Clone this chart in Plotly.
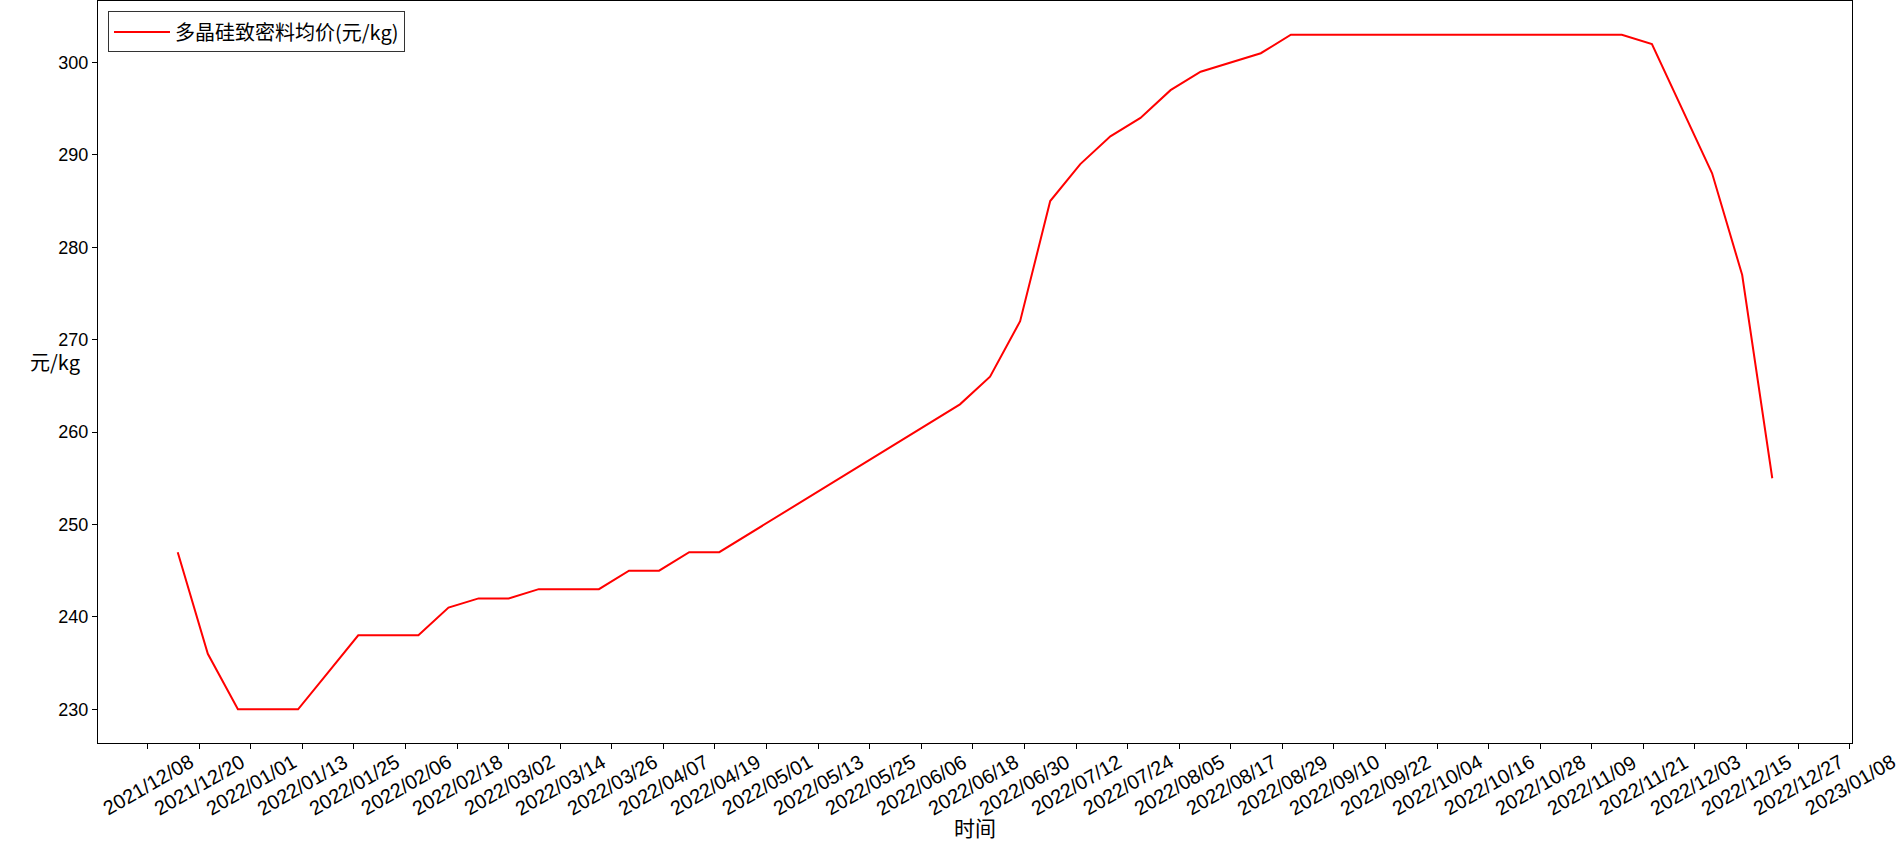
import plotly.graph_objects as go
from datetime import datetime

dates = [
    "2021-12-15", "2021-12-22", "2021-12-29", "2022-01-05", "2022-01-12",
    "2022-01-19", "2022-01-26", "2022-02-02", "2022-02-09", "2022-02-16",
    "2022-02-23", "2022-03-02", "2022-03-09", "2022-03-16", "2022-03-23",
    "2022-03-30", "2022-04-06", "2022-04-13", "2022-04-20",
    "2022-06-15", "2022-06-22", "2022-06-29", "2022-07-06", "2022-07-13",
    "2022-07-20", "2022-07-27", "2022-08-03", "2022-08-10", "2022-08-17",
    "2022-08-24", "2022-08-31", "2022-09-07", "2022-09-14", "2022-09-21",
    "2022-09-28", "2022-10-05", "2022-10-12", "2022-10-19", "2022-10-26",
    "2022-11-02", "2022-11-09", "2022-11-16", "2022-11-23",
    "2022-12-07", "2022-12-14", "2022-12-21",
]
prices = [
    247, 236, 230, 230, 230,
    234, 238, 238, 238, 241,
    242, 242, 243, 243, 243,
    245, 245, 247, 247,
    263, 266, 272, 285, 289,
    292, 294, 297, 299, 300,
    301, 303, 303, 303, 303,
    303, 303, 303, 303, 303,
    303, 303, 303, 302,
    288, 277, 255,
]
series_name = "多晶硅致密料均价(元/kg)"
x_title = "时间"
y_title = "元/kg"

tick_dates = [
    "2021-12-08", "2021-12-20", "2022-01-01", "2022-01-13", "2022-01-25",
    "2022-02-06", "2022-02-18", "2022-03-02", "2022-03-14", "2022-03-26",
    "2022-04-07", "2022-04-19", "2022-05-01", "2022-05-13", "2022-05-25",
    "2022-06-06", "2022-06-18", "2022-06-30", "2022-07-12", "2022-07-24",
    "2022-08-05", "2022-08-17", "2022-08-29", "2022-09-10", "2022-09-22",
    "2022-10-04", "2022-10-16", "2022-10-28", "2022-11-09", "2022-11-21",
    "2022-12-03", "2022-12-15", "2022-12-27", "2023-01-08",
]
tick_labels = [d.replace("-", "/") for d in tick_dates]
y_ticks = [230, 240, 250, 260, 270, 280, 290, 300]

# ---- axis ranges with 5% padding (like matplotlib autoscale) ----
d0 = datetime.fromisoformat(dates[0])
d1 = datetime.fromisoformat(dates[-1])
pad = (d1 - d0) * 0.05
x_range = [(d0 - pad).isoformat(), (d1 + pad).isoformat()]
ymin, ymax = min(prices), max(prices)
ypad = (ymax - ymin) * 0.05
y_range = [ymin - ypad, ymax + ypad]

CJK = "Noto Sans CJK SC"
LAT = "Liberation Sans"

fig = go.Figure()
fig.add_trace(go.Scatter(
    x=dates, y=prices, mode="lines", name=series_name,
    line=dict(color="#ff0000", width=2),
))

annotations = []
for d, lab in zip(tick_dates, tick_labels):
    annotations.append(dict(
        x=d, y=-0.056, xref="x", yref="paper", text=lab, showarrow=False,
        textangle=-30, xanchor="center", yanchor="middle",
        font=dict(family=LAT, size=20, color="black"),
    ))
annotations.append(dict(
    x=0.5, y=-0.1135, xref="paper", yref="paper", text=x_title, showarrow=False,
    xanchor="center", yanchor="middle",
    font=dict(family=CJK, size=21, color="black"),
))
annotations.append(dict(
    x=-0.0091, y=0.514, xref="paper", yref="paper", text=y_title, showarrow=False,
    xanchor="right", yanchor="middle",
    font=dict(family=CJK, size=20, color="black"),
))

fig.update_layout(
    width=1898, height=843,
    margin=dict(l=98, r=46, t=1, b=100),
    paper_bgcolor="white", plot_bgcolor="white",
    showlegend=True,
    legend=dict(
        x=0.0057, y=0.986, xanchor="left", yanchor="top",
        bgcolor="white", bordercolor="#333333", borderwidth=1,
        itemwidth=56, tracegroupgap=0,
        font=dict(family=CJK, size=20, color="black"),
    ),
    annotations=annotations,
    xaxis=dict(
        type="date", range=x_range,
        tickvals=tick_dates, showticklabels=False,
        ticks="outside", ticklen=5, tickcolor="black", tickwidth=1,
        showline=True, linecolor="black", linewidth=1, mirror=True,
        showgrid=False, zeroline=False,
    ),
    yaxis=dict(
        range=y_range, tickvals=y_ticks,
        ticks="outside", ticklen=5, tickcolor="black", tickwidth=1,
        tickfont=dict(family=LAT, size=18, color="black"),
        showline=True, linecolor="black", linewidth=1, mirror=True,
        showgrid=False, zeroline=False,
    ),
)

fig.write_html(
    "out.html",
    config={"displayModeBar": False},
    post_script="document.body.style.margin='0px';document.body.style.overflow='hidden';",
)
